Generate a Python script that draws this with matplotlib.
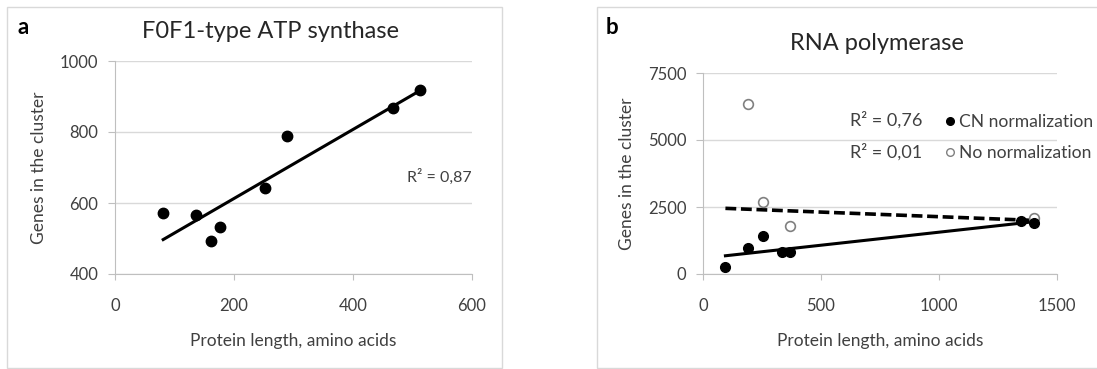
import matplotlib
matplotlib.use("Agg")
import matplotlib.pyplot as plt
from matplotlib.lines import Line2D
from matplotlib.patches import Rectangle

plt.rcParams['font.family'] = ['Lato', 'DejaVu Sans']

# panel a: F0F1-type ATP synthase
atp_len = [81, 136, 161, 177, 252, 289, 468, 513]
atp_genes = [572, 566, 492, 531, 642, 788, 869, 919]
atp_trend_x = [81, 513]
atp_trend_y = [497, 917]

# panel b: RNA polymerase
rna_len = [95, 191, 255, 333, 369, 1347, 1401]
rna_genes_cn = [274, 959, 1420, 810, 810, 1993, 1894]
rna_len_raw = [191, 255, 369, 1401]
rna_genes_raw = [6354, 2703, 1794, 2080]
rna_trend_x = [95, 1401]
rna_trend_cn = [680, 1950]
rna_trend_raw = [2450, 2000]

TXT = '#404040'
GRID = '#d9d9d9'
SPINE = '#bfbfbf'

fig = plt.figure(figsize=(10.97, 3.69), dpi=100)

# frames round each panel
fig.patches.append(Rectangle((7 / 1097, 1 / 369), 495 / 1097, 361 / 369,
                             transform=fig.transFigure, fill=False,
                             edgecolor=GRID, linewidth=1))
fig.patches.append(Rectangle((597 / 1097, 1 / 369), 0.5, 361 / 369,
                             transform=fig.transFigure, fill=False,
                             edgecolor=GRID, linewidth=1))


def style(ax):
    for s in ['top', 'right']:
        ax.spines[s].set_visible(False)
    for s in ['left', 'bottom']:
        ax.spines[s].set_color(SPINE)
    ax.grid(axis='y', color=GRID, linewidth=1)
    ax.set_axisbelow(True)
    ax.tick_params(axis='x', colors=SPINE, labelcolor=TXT, labelsize=12,
                   length=4, pad=13)
    ax.tick_params(axis='y', colors=SPINE, labelcolor=TXT, labelsize=12,
                   length=5, pad=7)
    ax.set_xlabel('Protein length, amino acids', fontsize=12.5, color=TXT,
                  labelpad=14)
    ax.set_ylabel('Genes in the cluster', fontsize=12.5, color=TXT,
                  labelpad=9)


ax1 = fig.add_axes([115 / 1097, 1 - 274 / 369, 357 / 1097, 213 / 369])
ax1.plot(atp_trend_x, atp_trend_y, color='black', linewidth=2.2)
ax1.plot(atp_len, atp_genes, 'o', color='black', markersize=7.5)
ax1.set_xlim(0, 600)
ax1.set_ylim(400, 1000)
ax1.set_xticks([0, 200, 400, 600])
ax1.set_yticks([400, 600, 800, 1000])
style(ax1)
ax1.text(1.0, 0.455, 'R² = 0,87', transform=ax1.transAxes, ha='right',
         va='center', fontsize=11.5, color=TXT)
fig.text(271 / 1097, 1 - 31 / 369, 'F0F1-type ATP synthase', ha='center',
         va='center', fontsize=17, color='#262626')
fig.text(23 / 1097, 1 - 28 / 369, 'a', ha='center', va='center',
         fontsize=16, fontweight='bold', color='black')

ax2 = fig.add_axes([703 / 1097, 1 - 274 / 369, 354 / 1097, 201 / 369])
ax2.plot(rna_trend_x, rna_trend_raw, color='black', linewidth=2.6,
         dashes=(3.0, 1.3))
ax2.plot(rna_trend_x, rna_trend_cn, color='black', linewidth=2.2)
ax2.plot(rna_len_raw, rna_genes_raw, 'o', markerfacecolor='white',
         markeredgecolor='#808080', markeredgewidth=1.2, markersize=7)
ax2.plot(rna_len, rna_genes_cn, 'o', color='black', markersize=7)
ax2.set_xlim(0, 1500)
ax2.set_ylim(0, 7500)
ax2.set_xticks([0, 500, 1000, 1500])
ax2.set_yticks([0, 2500, 5000, 7500])
style(ax2)
fig.text(877 / 1097, 1 - 43 / 369, 'RNA polymerase', ha='center',
         va='center', fontsize=17, color='#262626')
fig.text(612 / 1097, 1 - 28 / 369, 'b', ha='center', va='center',
         fontsize=16, fontweight='bold', color='black')

fig.text(850 / 1097, 1 - 120 / 369, 'R² = 0,76', ha='left', va='center',
         fontsize=13, color=TXT)
fig.text(850 / 1097, 1 - 152 / 369, 'R² = 0,01', ha='left', va='center',
         fontsize=13, color=TXT)
handles = [Line2D([], [], marker='o', linestyle='none', color='black',
                  markersize=5.5),
           Line2D([], [], marker='o', linestyle='none', markerfacecolor='white',
                  markeredgecolor='#808080', markersize=5.5)]
ax2.legend(handles, ['CN normalization', 'No normalization'],
           loc='upper left', bbox_to_anchor=(943 / 1097, 1 - 114 / 369),
           bbox_transform=fig.transFigure, frameon=False, fontsize=12.6,
           labelcolor=TXT, handletextpad=0.1, handlelength=0.8,
           borderaxespad=0, borderpad=0, labelspacing=0.85)

fig.savefig('out.png', dpi=100)
